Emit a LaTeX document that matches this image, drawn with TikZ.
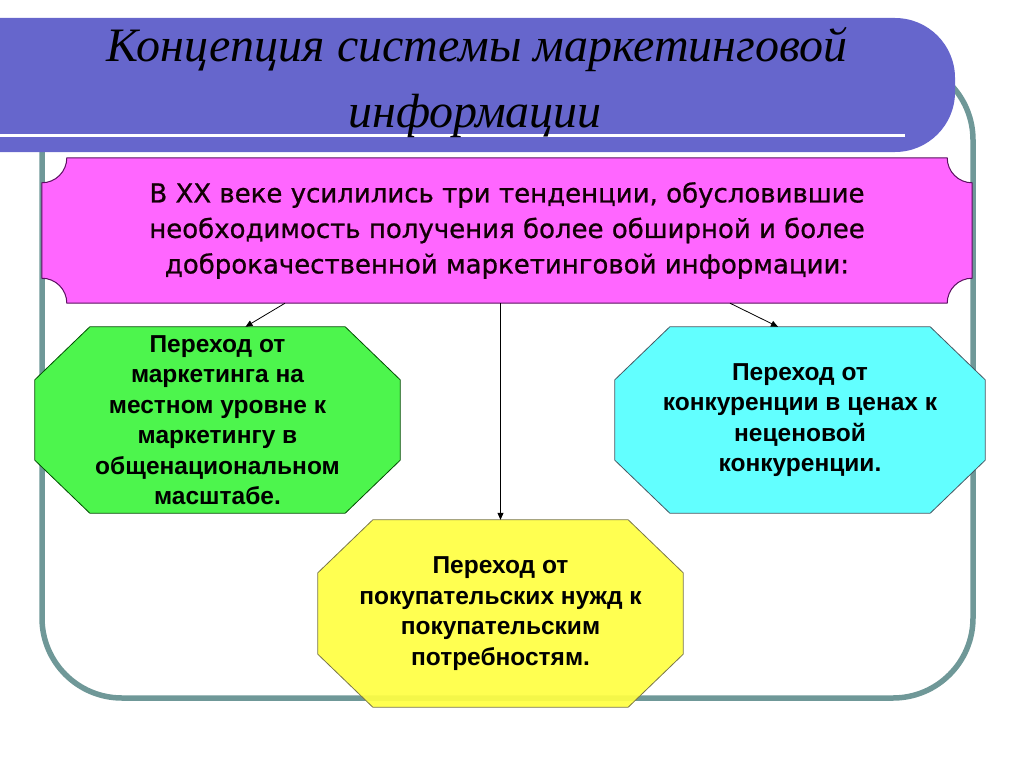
\documentclass[tikz,border=0pt]{standalone}
\usepackage{fontspec}
\setmainfont{Liberation Sans}
\newfontfamily\titlefont{Liberation Serif}
\newfontfamily\trendfont[FakeBold=0.8]{DejaVu Sans}
\usepackage{tikz}
\usetikzlibrary{calc,arrows.meta}
\definecolor{bannerblue}{HTML}{6666CC}
\definecolor{framegray}{HTML}{6F9898}
\definecolor{trendpink}{HTML}{FF66FF}
\definecolor{trendedge}{HTML}{5A1060}
\definecolor{shiftgreen}{HTML}{4DF54D}
\definecolor{shiftcyan}{HTML}{62FFFF}
\definecolor{shiftyellow}{HTML}{FFFF44}

\pgfdeclarelayer{back}
\pgfdeclarelayer{mid}
\pgfsetlayers{back,mid,main}

% octagon round a named node
\newcommand{\octapath}[1]{($(#1.north west)+(55,0)$) -- ($(#1.north east)+(-55,0)$)
  -- ($(#1.north east)+(0,53)$) -- ($(#1.south east)+(0,-53)$)
  -- ($(#1.south east)+(-55,0)$) -- ($(#1.south west)+(55,0)$)
  -- ($(#1.south west)+(0,-53)$) -- ($(#1.north west)+(0,53)$) -- cycle}

\begin{document}
\begin{tikzpicture}[x=1pt,y=-1pt,
	headline/.style={font=\titlefont\itshape\fontsize{48}{50}\selectfont,anchor=base,inner sep=0pt},
	trendbox/.style={minimum width=930pt,minimum height=145pt,inner sep=0pt,align=center,
		text=black!90!purple,font=\trendfont\fontsize{26}{35.5}\selectfont},
	shiftbox/.style={minimum width=365pt,minimum height=186pt,inner sep=0pt,align=center,
		font=\bfseries\fontsize{24.5}{30.5}\selectfont},
	link/.style={-{Triangle[length=7pt,width=6pt]},line width=0.8pt},
	]
	
	\useasboundingbox (0,0) rectangle (1024,768);
	
	\begin{pgfonlayer}{back}
		\draw[framegray,line width=5.5pt,rounded corners=80pt] (42,60) rectangle (973,698);
		\fill[bannerblue,rounded corners=60pt] (-120,18) rectangle (955,152);
		\draw[white,line width=3pt] (0,135) -- (905,135);
	\end{pgfonlayer}
	
	\node[headline] (title1) at (477,62) {Концепция системы маркетинговой};
	\node[headline] (title2) at (475,127) {информации};
	
	\node[trendbox] (trend) at (507,230.5)
	{В XX веке усилились три тенденции, обусловившие\\
		необходимость получения более обширной и более\\
		доброкачественной маркетинговой информации:};
	
	\node[shiftbox] (local) at (217.5,420)
	{Переход от\\маркетинга на\\местном уровне к\\маркетингу в\\общенациональном\\масштабе.};
	\node[shiftbox,minimum width=370pt] (price) at (800,420)
	{Переход от\\конкуренции в ценах к\\неценовой\\конкуренции.};
	\node[shiftbox,minimum height=187pt] (needs) at (500.5,613.5)
	{Переход от\\покупательских нужд к\\покупательским\\потребностям.};
	
	\begin{pgfonlayer}{mid}
		\filldraw[fill=trendpink,draw=trendedge,line width=1pt]
		($(trend.north west)+(25,0)$) -- ($(trend.north east)+(-25,0)$)
		arc[start angle=180,end angle=90,radius=25]
		-- ($(trend.south east)+(0,-25)$)
		arc[start angle=270,end angle=180,radius=25]
		-- ($(trend.south west)+(25,0)$)
		arc[start angle=0,end angle=-90,radius=25]
		-- ($(trend.north west)+(0,25)$)
		arc[start angle=90,end angle=0,radius=25] -- cycle;
		\filldraw[fill=shiftgreen,draw=green!30!black,line width=0.8pt] \octapath{local};
		\filldraw[fill=shiftcyan,draw=cyan!30!black,line width=0.8pt] \octapath{price};
		\filldraw[fill=shiftyellow,fill opacity=0.93,draw=yellow!40!black,line width=0.8pt] \octapath{needs};
	\end{pgfonlayer}
	
	\draw[link] ($(trend.south)+(-222,0)$) -- ($(local.north)+(28,0)$);
	\draw[link] (trend.south -| needs.north) -- (needs.north);
	\draw[link] ($(trend.south)+(223,0)$) -- ($(price.north)+(-22,0)$);
	
\end{tikzpicture}
\end{document}
